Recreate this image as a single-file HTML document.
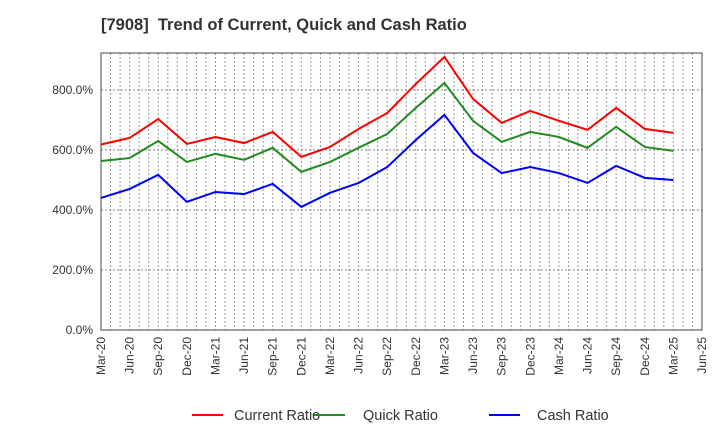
<!DOCTYPE html>
<html><head><meta charset="utf-8"><style>
body{margin:0;background:#fff;font-family:"Liberation Sans",Arial,sans-serif}
svg text{font-family:"Liberation Sans",Arial,sans-serif}
</style></head><body>
<svg id="chart" width="720" height="440" xmlns="http://www.w3.org/2000/svg">
<rect width="720" height="440" fill="#fff"/>
<text x="101" y="30" font-size="16.5" font-weight="bold" fill="#333" style="white-space:pre">[7908]  Trend of Current, Quick and Cash Ratio</text>
<g id="grid"></g><g id="axes"></g><g id="series"></g><g id="legend"></g>
</svg>
<script>
const categories=["Mar-20","Jun-20","Sep-20","Dec-20","Mar-21","Jun-21","Sep-21","Dec-21","Mar-22","Jun-22","Sep-22","Dec-22","Mar-23","Jun-23","Sep-23","Dec-23","Mar-24","Jun-24","Sep-24","Dec-24","Mar-25","Jun-25"];
const currentRatio=[618,640,703,620,643,623,660,577,610,670,723,820,910,770,690,730,697,667,740,670,657];
const quickRatio=[563,573,630,560,587,567,607,527,560,607,653,740,823,697,627,660,643,607,677,610,597];
const cashRatio=[440,470,517,427,460,453,487,410,457,490,543,633,717,590,523,543,523,490,547,507,500];
const yTicks=[0,200,400,600,800];
const yTickLabels=["0.0%","200.0%","400.0%","600.0%","800.0%"];
const seriesNames=["Current Ratio","Quick Ratio","Cash Ratio"];
const NS="http://www.w3.org/2000/svg";
const L=101,R=702,T=53,B=330,yMax=923;
const xS=i=>L+i*(R-L)/(categories.length-1);
const yS=v=>B-v*(B-T)/yMax;
function mk(tag,attrs,parent){const e=document.createElementNS(NS,tag);for(const k in attrs)e.setAttribute(k,attrs[k]);parent.appendChild(e);return e;}
const grid=document.getElementById('grid'),axes=document.getElementById('axes'),ser=document.getElementById('series'),leg=document.getElementById('legend');
const step=(R-L)/(categories.length-1)/3;
for(let m=1;m<(categories.length-1)*3;m++){const x=L+m*step;const g=mk('line',{x1:x,x2:x,y1:T,y2:B,stroke:'#999','stroke-dasharray':'2,2','stroke-width':1},grid);

}
yTicks.forEach((v,i)=>{const y=yS(v);
if(v>0){const g=mk('line',{x1:L,x2:R,y1:y,y2:y,stroke:'#888','stroke-dasharray':'2,2','stroke-width':1},grid);

}
const t=mk('text',{x:L-8,y:y+4,'text-anchor':'end','font-size':12,fill:'#333'},axes);t.textContent=yTickLabels[i];

});
const frame=mk('rect',{x:L,y:T,width:R-L,height:B-T,fill:'none',stroke:'#444','stroke-width':1},axes);


categories.forEach((c,i)=>{const x=xS(i);const t=mk('text',{x:0,y:0,'text-anchor':'end','font-size':12,fill:'#333',transform:`translate(${x+4},337) rotate(-90)`},axes);t.textContent=c;

});
const colors=['#ff0000','#228b22','#0000ff'];
[currentRatio,quickRatio,cashRatio].forEach((d,k)=>{const p=mk('polyline',{points:d.map((v,i)=>xS(i)+','+yS(v)).join(' '),fill:'none',stroke:colors[k],'stroke-width':2},ser);

});
const lx=[192,314,489];
seriesNames.forEach((n,k)=>{const g=mk('g',{},leg);


mk('line',{x1:lx[k],x2:lx[k]+31,y1:415,y2:415,stroke:colors[k],'stroke-width':2},g);
const t=mk('text',{x:lx[k]+[42,49,48][k],y:420,'font-size':14.5,fill:'#333'},g);t.textContent=n;});
</script>
</body></html>
